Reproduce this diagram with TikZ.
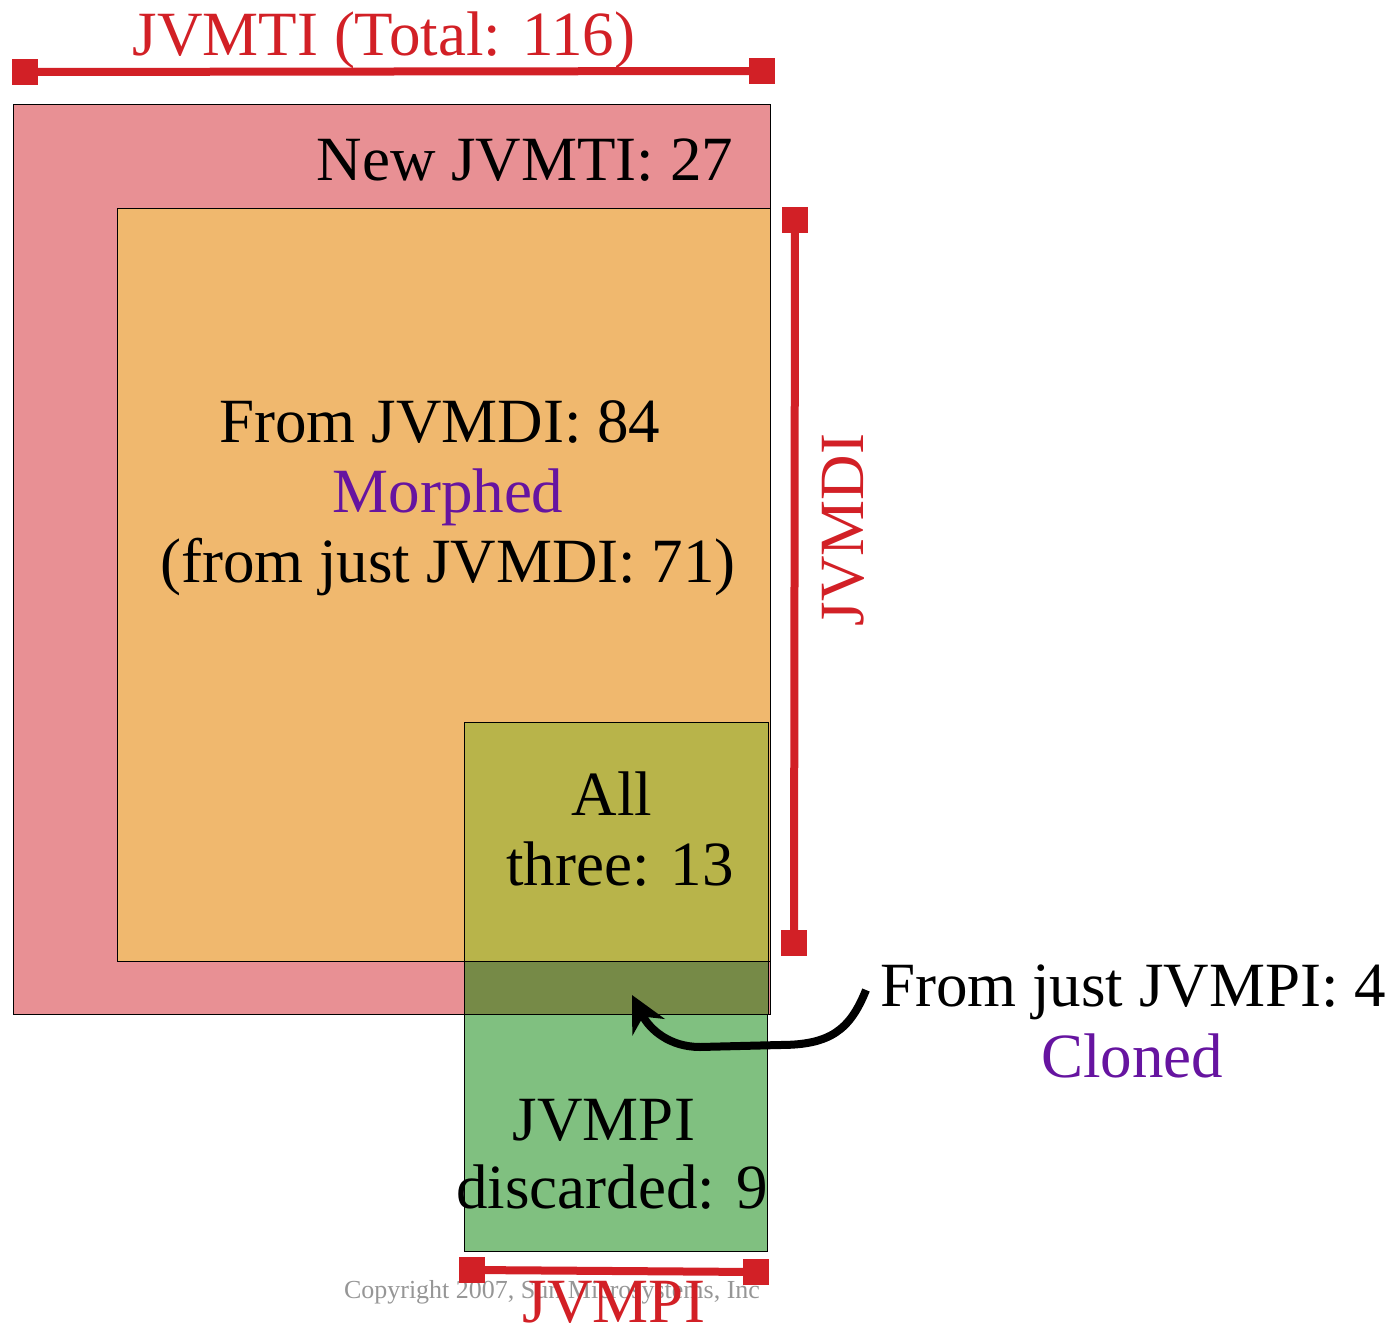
\documentclass[tikz,border=0pt]{standalone}
\usepackage{fontspec}
\setmainfont{Liberation Serif}
\usetikzlibrary{arrows.meta}
\definecolor{pinkbox}{RGB}{232,144,148}
\definecolor{orangebox}{RGB}{240,184,110}
\definecolor{olivebox}{RGB}{184,180,74}
\definecolor{darkolive}{RGB}{118,138,71}
\definecolor{greenbox}{RGB}{128,192,128}
\definecolor{barred}{RGB}{210,32,38}
\definecolor{morph}{RGB}{102,20,160}
\definecolor{copygray}{RGB}{150,150,150}
\begin{document}
\begin{tikzpicture}[x=1pt,y=-1pt,
  box/.style={draw=black, line width=0.8pt, anchor=north west, inner sep=0pt, outer sep=0pt},
  sqend/.style={fill=barred, minimum size=26pt, inner sep=0pt, outer sep=0pt},
  redline/.style={draw=barred, line width=8pt},
  lbl/.style={font=\fontsize{63}{70}\selectfont, inner sep=0pt, anchor=base},
  redlbl/.style={lbl, text=barred},
  purplbl/.style={lbl, text=morph}]
\useasboundingbox (0,0) rectangle (1393,1325);
% boxes
\node[box, fill=pinkbox, minimum width=757pt, minimum height=910pt] (pink) at (13,104) {};
\node[box, fill=orangebox, minimum width=653pt, minimum height=753pt] (orange) at (117,208) {};
\node[box, fill=olivebox, minimum width=304pt, minimum height=239pt] (olive) at (464,722) {};
\node[box, fill=darkolive, minimum width=304pt, minimum height=53pt] (dark) at (464,961) {};
\node[box, fill=greenbox, minimum width=303pt, minimum height=237pt] (green) at (464,1014) {};
% texts
\node[redlbl] (ttl) at (384,55) {JVMTI (Total: 116)};
\node[lbl] (newj) at (525,180) {New JVMTI: 27};
\node[lbl] (fromdi) at (440,442) {From JVMDI: 84};
\node[purplbl] (morphed) at (448,512) {Morphed};
\node[lbl] (justdi) at (448,582) {(from just JVMDI: 71)};
\node[lbl] (all) at (612,815) {All};
\node[lbl] (three) at (620,885) {three: 13};
\node[lbl] (jvmpi) at (604,1140) {JVMPI};
\node[lbl] (disc) at (612,1208) {discarded: 9};
\node[lbl, anchor=base west] (justpi) at (880,1006) {From just JVMPI: 4};
\node[purplbl] (cloned) at (1132,1077) {Cloned};
\node[redlbl, rotate=90, anchor=base] (jvmdi) at (863,530) {JVMDI};
\node[font=\fontsize{26}{30}\selectfont, text=copygray, inner sep=0pt, anchor=base] (copy) at (552,1298) {Copyright 2007, Sun Microsystems, Inc};
% bars
\node[sqend] (t1) at (25,72) {};
\node[sqend] (t2) at (762,71) {};
\draw[redline] (t1) -- (t2);
\node[sqend] (r1) at (795,220) {};
\node[sqend] (r2) at (794,943) {};
\draw[redline] (r1) -- (r2);
\node[sqend] (b1) at (472,1270) {};
\node[sqend] (b2) at (756,1272) {};
\draw[redline] (b1) -- (b2);
\node[redlbl] (jvmpilbl) at (614,1322) {JVMPI};
% arrow
\coordinate (astart) at (866,990);
\coordinate (atip) at (632,995);
\draw[line width=8pt, -{Stealth[length=36pt, width=36pt]}] (astart) .. controls (850,1030) and (830,1045) .. (780,1045) -- (700,1047) .. controls (670,1047) and (650,1030) .. (atip);
\end{tikzpicture}
\end{document}
